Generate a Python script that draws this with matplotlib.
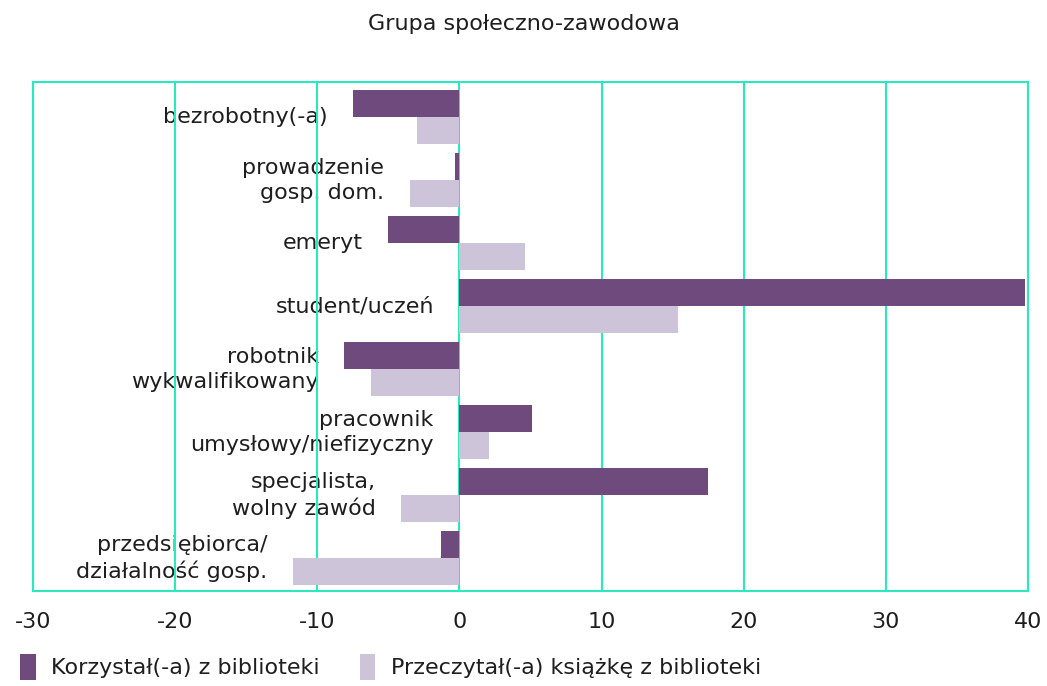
import matplotlib.pyplot as plt
import numpy as np

plt.rcParams['font.family'] = ['DejaVu Sans']

categories = [
    "bezrobotny(-a)",
    "prowadzenie\ngosp. dom.",
    "emeryt",
    "student/uczeń",
    "robotnik\nwykwalifikowany",
    "pracownik\numysłowy/niefizyczny",
    "specjalista,\nwolny zawód",
    "przedsiębiorca/\ndziałalność gosp.",
]
used_library = [-7.5, -0.3, -5.0, 39.8, -8.1, 5.1, 17.5, -1.3]
read_book = [-3.0, -3.5, 4.6, 15.4, -6.2, 2.1, -4.1, -11.7]
series_names = ["Korzystał(-a) z biblioteki", "Przeczytał(-a) książkę z biblioteki"]
x_ticks = [-30, -20, -10, 0, 10, 20, 30, 40]

dark = "#6f4a7c"
light = "#cdc4da"
grid_c = "#2de8bc"
txt_c = "#1e1e1e"
fs = 16

fig = plt.figure(figsize=(10.47, 6.86), dpi=100)
ax = fig.add_axes([33 / 1047, 1 - 591 / 686, 995 / 1047, 509 / 686])

y = np.arange(len(categories))
h = 0.43
ax.barh(y - h / 2, used_library, height=h, color=dark, label=series_names[0], zorder=3)
ax.barh(y + h / 2, read_book, height=h, color=light, label=series_names[1], zorder=3)

ax.set_xlim(-30, 40)
ax.set_ylim(7.52, -0.56)
ax.set_xticks(x_ticks)
ax.set_xticklabels([str(t) for t in x_ticks], fontsize=16, color=txt_c)
ax.set_yticks([])
ax.tick_params(axis="x", length=0, pad=15)
for t in x_ticks:
    ax.axvline(t, color=grid_c, lw=1.5, zorder=2)
for s in ax.spines.values():
    s.set_color(grid_c)
    s.set_linewidth(1.5)

# labels sit just left of the leftmost bar of each category
for i, name in enumerate(categories):
    left = min(0, used_library[i], read_book[i])
    ax.text(left - 1.8, i, name, ha="right", va="center", fontsize=fs,
            color=txt_c, linespacing=1.3, zorder=1)

fig.text(0.5, 1 - 24 / 686, "Grupa społeczno-zawodowa", ha="center", va="center",
         fontsize=fs, color=txt_c)

fig.legend(loc="lower left", bbox_to_anchor=(0.0, -0.02), ncol=2, frameon=False,
           fontsize=fs, handlelength=0.7, handleheight=1.4, handletextpad=0.7,
           columnspacing=1.8, labelcolor=txt_c)

fig.savefig("out.png", dpi=100)
